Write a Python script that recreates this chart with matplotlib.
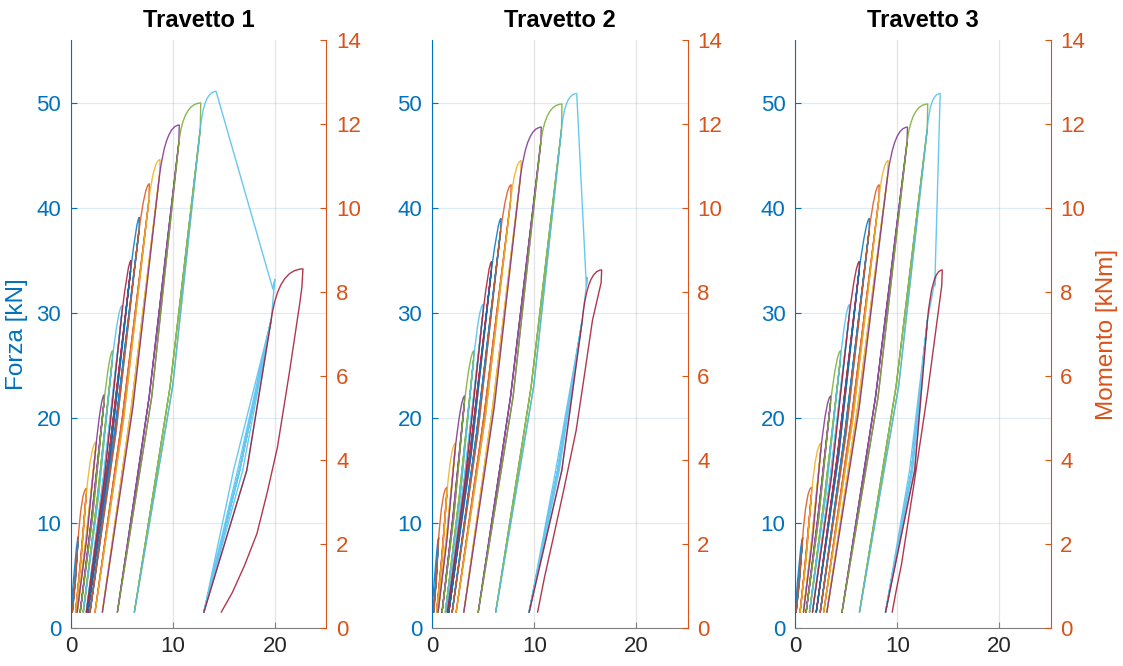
import matplotlib.pyplot as plt
from matplotlib.path import Path
from matplotlib.patches import PathPatch

plt.rcParams['font.family'] = ['Liberation Sans', 'DejaVu Sans']

# MATLAB default colour order, one colour per load level
colors = ['#0072BD', '#D95319', '#EDB120', '#7E2F8E', '#77AC30', '#4DBEEE', '#A2142F']
titles = ['Travetto 1', 'Travetto 2', 'Travetto 3']

F_BASE = 1.5   # lower load of every cycle [kN]
BAND_F = 15.0  # load level where the last bands are sampled [kN]

# shared load levels of the 12 regular cycles
drop_f = [8.2, 12.7, 17.0, 21.4, 25.5, 29.8, 34.0, 37.8, 40.7, 43.1, 46.2, 47.5]
mid_f = [4.5, 6.5, 8.5, 10.5, 12.5, 14.5, 16.5, 18.5, 20.0, 21.0, 22.0, 23.0]

# ---- Travetto 1 ----
pk_x_1 = [0.72, 1.53, 2.45, 3.26, 4.08, 5.0, 5.87, 6.69, 7.67, 8.71, 10.6, 12.7, 14.2, 22.7]
pk_f_1 = [8.7, 13.3, 17.7, 22.2, 26.4, 30.7, 35.0, 39.1, 42.3, 44.6, 47.9, 50.0, 51.1, 34.2]
ctrl_x_1 = [0.55, 1.05, 2.0, 2.95, 3.78, 4.65, 5.6, 6.45, 7.25, 8.1, 9.3, 11.0, 13.0, 20.3]
drop_x_1 = [0.68, 1.49, 2.41, 3.22, 4.04, 4.96, 5.83, 6.65, 7.62, 8.66, 10.55, 12.65]
mid_x_1 = [0.41, 0.95, 1.47, 2.02, 2.59, 3.2, 3.72, 4.26, 5.02, 5.9, 7.65, 9.7]
rmid_x_1 = [0.44, 1.0, 1.54, 2.1, 2.68, 3.3, 3.84, 4.38, 5.16, 6.05, 7.9, 9.95]
bot_x_1 = [0.13, 0.45, 0.6, 0.9, 1.2, 1.5, 1.65, 1.86, 2.35, 3.07, 4.54, 6.2]
soft_x_1 = [19.75, 19.95, 19.6]
soft_f_1 = [32.3, 33.2, 29.4]
band_bot_1 = 13.0
band_mid_1 = [16.5, 15.9, 16.3, 16.8, 17.2]
tail_x_1 = [22.6, 22.4, 21.4, 20.2, 19.2, 18.2, 17.0, 15.8, 14.7]
tail_f_1 = [32.5, 31.0, 24.5, 17.2, 12.9, 9.0, 6.0, 3.4, 1.5]

# ---- Travetto 2 ----
pk_x_2 = [0.66, 1.48, 2.3, 3.2, 4.1, 5.0, 5.84, 6.75, 7.74, 8.72, 10.69, 12.72, 14.16, 16.6]
pk_f_2 = [8.6, 13.4, 17.6, 22.1, 26.4, 30.8, 34.9, 39.0, 42.2, 44.5, 47.7, 49.9, 50.9, 34.1]
ctrl_x_2 = [0.5, 1.0, 1.88, 2.85, 3.75, 4.62, 5.56, 6.48, 7.3, 8.15, 9.3, 11.1, 13.0, 15.2]
drop_x_2 = [0.62, 1.44, 2.26, 3.16, 4.06, 4.96, 5.8, 6.71, 7.69, 8.67, 10.64, 12.67]
mid_x_2 = [0.39, 0.93, 1.4, 2.04, 2.66, 3.2, 3.7, 4.35, 5.06, 5.93, 7.68, 9.7]
rmid_x_2 = [0.42, 0.98, 1.47, 2.12, 2.75, 3.3, 3.82, 4.47, 5.2, 6.08, 7.93, 9.95]
bot_x_2 = [0.16, 0.45, 0.59, 0.98, 1.31, 1.5, 1.64, 1.97, 2.36, 3.11, 4.52, 6.23]
soft_x_2 = [15.1, 15.2, 14.7]
soft_f_2 = [32.6, 33.4, 29.3]
band_bot_2 = 9.5
band_mid_2 = [12.3, 12.1, 12.45, 12.7]
tail_x_2 = [16.55, 15.7, 14.9, 14.1, 12.9, 11.8, 11.0, 10.33]
tail_f_2 = [32.9, 29.3, 24.0, 18.8, 13.2, 8.3, 4.8, 1.5]

# ---- Travetto 3 ----
pk_x_3 = [0.75, 1.64, 2.56, 3.5, 4.46, 5.34, 6.3, 7.28, 8.23, 9.11, 11.0, 12.98, 14.2, 14.4]
pk_f_3 = [8.6, 13.4, 17.6, 22.1, 26.4, 30.8, 34.9, 39.0, 42.2, 44.5, 47.7, 49.9, 50.9, 34.1]
ctrl_x_3 = [0.55, 1.1, 2.05, 3.1, 4.08, 4.98, 5.95, 6.95, 7.82, 8.6, 9.7, 11.4, 13.2, 13.4]
drop_x_3 = [0.71, 1.6, 2.52, 3.46, 4.42, 5.3, 6.26, 7.24, 8.18, 9.06, 10.95, 12.93]
mid_x_3 = [0.40, 1.02, 1.64, 2.23, 2.88, 3.47, 4.15, 4.86, 5.52, 6.12, 7.87, 9.88]
rmid_x_3 = [0.43, 1.07, 1.71, 2.31, 2.97, 3.57, 4.27, 4.98, 5.66, 6.27, 8.12, 10.13]
bot_x_3 = [0.1, 0.49, 0.82, 1.08, 1.41, 1.7, 2.07, 2.46, 2.8, 3.11, 4.59, 6.3]
soft_x_3 = [13.67, 13.75, 12.95]
soft_f_3 = [32.6, 33.4, 29.3]
band_bot_3 = 8.85
band_mid_3 = [11.4, 11.2, 11.5, 11.7]
tail_x_3 = [14.35, 13.9, 12.95, 11.6, 10.4, 9.9, 9.5]
tail_f_3 = [32.6, 29.3, 22.3, 13.5, 6.0, 3.6, 1.5]

panels = [
    (pk_x_1, pk_f_1, ctrl_x_1, drop_x_1, mid_x_1, rmid_x_1, bot_x_1,
     soft_x_1, soft_f_1, band_bot_1, band_mid_1, tail_x_1, tail_f_1),
    (pk_x_2, pk_f_2, ctrl_x_2, drop_x_2, mid_x_2, rmid_x_2, bot_x_2,
     soft_x_2, soft_f_2, band_bot_2, band_mid_2, tail_x_2, tail_f_2),
    (pk_x_3, pk_f_3, ctrl_x_3, drop_x_3, mid_x_3, rmid_x_3, bot_x_3,
     soft_x_3, soft_f_3, band_bot_3, band_mid_3, tail_x_3, tail_f_3),
]

LW = 1.0


def add_path(ax, verts, codes, color):
    ax.add_patch(PathPatch(Path(verts, codes), fill=False, edgecolor=color,
                           lw=LW, alpha=0.85, joinstyle='round', capstyle='round'))


def draw_cycles(ax, pk_x, pk_f, ctrl_x, drop_x, mid_x, rmid_x, bot_x,
                soft_x, soft_f, band_bot, band_mid, tail_x, tail_f):
    n = len(drop_x)
    # regular cycles: reload along previous band, arch to new peak, unload, repeat
    for i in range(n):
        if i == 0:
            verts = [(0.0, F_BASE)]
        else:
            verts = [(bot_x[i - 1], F_BASE), (rmid_x[i - 1], mid_f[i - 1]),
                     (drop_x[i - 1], drop_f[i - 1])]
        codes = [Path.MOVETO] + [Path.LINETO] * (len(verts) - 1)
        verts += [(ctrl_x[i], pk_f[i]), (pk_x[i], pk_f[i])]
        codes += [Path.CURVE3, Path.CURVE3]
        seq = [(drop_x[i], drop_f[i]), (mid_x[i], mid_f[i]), (bot_x[i], F_BASE),
               (rmid_x[i], mid_f[i]), (drop_x[i], drop_f[i]),
               (mid_x[i], mid_f[i]), (bot_x[i], F_BASE)]
        verts += seq
        codes += [Path.LINETO] * len(seq)
        add_path(ax, verts, codes, colors[i % 7])

    # peak cycle with softening branch and repeated cycles
    i = n
    verts = [(bot_x[n - 1], F_BASE), (rmid_x[n - 1], mid_f[n - 1]),
             (drop_x[n - 1], drop_f[n - 1]), (ctrl_x[i], pk_f[i]), (pk_x[i], pk_f[i])]
    codes = [Path.MOVETO, Path.LINETO, Path.LINETO, Path.CURVE3, Path.CURVE3]
    for x, f in zip(soft_x, soft_f):
        verts.append((x, f))
        codes.append(Path.LINETO)
    top = (soft_x[-1], soft_f[-1])
    verts += [(band_mid[0], BAND_F), (band_bot, F_BASE)]
    codes += [Path.LINETO, Path.LINETO]
    for m in band_mid[1:]:
        verts += [(m, BAND_F), top, (band_mid[0], BAND_F), (band_bot, F_BASE)]
        codes += [Path.LINETO] * 4
    add_path(ax, verts, codes, colors[i % 7])

    # last cycle
    i = n + 1
    verts = [(band_bot, F_BASE), (band_mid[-1], BAND_F), top,
             (ctrl_x[i], pk_f[i]), (pk_x[i], pk_f[i])]
    codes = [Path.MOVETO, Path.LINETO, Path.LINETO, Path.CURVE3, Path.CURVE3]
    for x, f in zip(tail_x, tail_f):
        verts.append((x, f))
        codes.append(Path.LINETO)
    add_path(ax, verts, codes, colors[i % 7])


fig = plt.figure(figsize=(11.23, 6.66), dpi=100)
lefts = [0.0632, 0.3847, 0.708]

for k, left in enumerate(lefts):
    ax = fig.add_axes([left, 0.057, 0.2275, 0.883])
    ax.set_xlim(0, 25)
    ax.set_ylim(0, 56)
    ax.set_xticks([0, 10, 20])
    ax.set_yticks(range(0, 51, 10))
    ax.grid(axis='y', color='#0072BD', alpha=0.13, lw=0.9)
    ax.grid(axis='x', color='#262626', alpha=0.12, lw=0.9)
    ax.set_axisbelow(True)
    ax.tick_params(axis='y', colors='#0072BD', direction='in', length=4,
                   labelsize=16, pad=7)
    ax.tick_params(axis='x', colors='#808080', labelcolor='#262626',
                   direction='in', length=4, labelsize=16, pad=6)
    for s in ['top', 'right']:
        ax.spines[s].set_visible(False)
    ax.spines['left'].set_color('#0072BD')
    ax.spines['bottom'].set_color('#808080')

    draw_cycles(ax, *panels[k])

    ax2 = ax.twinx()
    ax2.set_ylim(0, 14)
    ax2.set_yticks(range(0, 15, 2))
    ax2.tick_params(axis='y', colors='#D95319', direction='in', length=4,
                    labelsize=16, pad=7)
    for s in ['top', 'left', 'bottom']:
        ax2.spines[s].set_visible(False)
    ax2.spines['right'].set_color('#D95319')

    ax.set_title(titles[k], fontsize=17, fontweight='bold', pad=9)
    if k == 0:
        ax.set_ylabel('Forza [kN]', color='#0072BD', fontsize=17.5, labelpad=6)
    if k == 2:
        ax2.set_ylabel('Momento [kNm]', color='#D95319', fontsize=17.5, labelpad=8)

fig.savefig('out.png', dpi=100)
